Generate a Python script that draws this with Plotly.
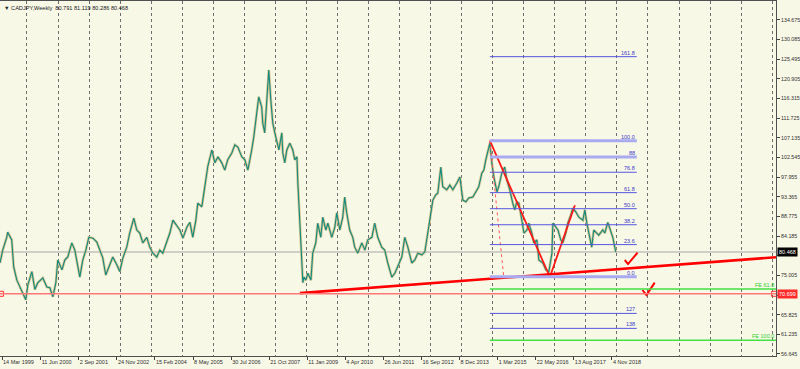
import plotly.graph_objects as go

# ---------------- data ----------------
dates = [
    "1999-02-18", "1999-03-22", "1999-05-08", "1999-05-20", "1999-07-06", "1999-07-29", "1999-09-04", "1999-10-09",
    "1999-11-14", "1999-12-18", "2000-01-12", "2000-02-28", "2000-04-03", "2000-05-08", "2000-07-06", "2000-08-22",
    "2000-09-27", "2000-11-01", "2000-12-06", "2000-12-29", "2001-02-16", "2001-03-21", "2001-04-25", "2001-06-12",
    "2001-07-17", "2001-08-21", "2001-09-14", "2001-10-19", "2001-11-24", "2001-12-29", "2002-02-15", "2002-04-02",
    "2002-05-07", "2002-06-11", "2002-07-16", "2002-08-21", "2002-10-07", "2002-11-23", "2002-12-28", "2003-02-03",
    "2003-03-20", "2003-04-24", "2003-06-11", "2003-07-16", "2003-08-20", "2003-09-25", "2003-11-11", "2003-12-16",
    "2004-01-21", "2004-03-07", "2004-04-12", "2004-05-17", "2004-07-03", "2004-08-08", "2004-09-13", "2004-10-29",
    "2004-12-04", "2005-01-09", "2005-02-25", "2005-04-01", "2005-05-05", "2005-06-10", "2005-07-03", "2005-08-19",
    "2005-09-24", "2005-10-29", "2005-12-15", "2006-01-20", "2006-02-25", "2006-04-11", "2006-05-16", "2006-06-20",
    "2006-08-07", "2006-09-12", "2006-10-17", "2006-12-03", "2007-01-08", "2007-02-12", "2007-03-29", "2007-04-22",
    "2007-05-27", "2007-06-20", "2007-07-25", "2007-08-06", "2007-08-29", "2007-09-23", "2007-10-04", "2007-10-16",
    "2007-11-09", "2007-12-02", "2007-12-26", "2008-01-19", "2008-02-12", "2008-03-17", "2008-03-29", "2008-04-21",
    "2008-05-15", "2008-06-20", "2008-07-24", "2008-08-17", "2008-09-11", "2008-09-22", "2008-10-16", "2008-11-09",
    "2008-11-20", "2008-12-02", "2008-12-25", "2009-01-18", "2009-02-23", "2009-03-16", "2009-04-21", "2009-05-14",
    "2009-06-19", "2009-07-12", "2009-08-17", "2009-09-10", "2009-10-26", "2009-12-01", "2009-12-24", "2010-01-29",
    "2010-03-04", "2010-03-27", "2010-04-20", "2010-05-25", "2010-06-30", "2010-07-23", "2010-08-28", "2010-10-14",
    "2010-11-19", "2010-12-24", "2011-02-10", "2011-03-15", "2011-04-20", "2011-06-06", "2011-07-11", "2011-08-16",
    "2011-10-02", "2011-11-07", "2011-12-12", "2012-01-28", "2012-03-03", "2012-04-08", "2012-05-24", "2012-06-29",
    "2012-08-04", "2012-09-20", "2012-10-25", "2012-11-29", "2013-01-04", "2013-01-27", "2013-03-02", "2013-03-26",
    "2013-05-01", "2013-05-24", "2013-07-10", "2013-08-15", "2013-09-19", "2013-11-06", "2013-12-11", "2014-01-15",
    "2014-02-20", "2014-03-25", "2014-05-12", "2014-06-16", "2014-07-21", "2014-08-26", "2014-09-19", "2014-10-12",
    "2014-11-05", "2014-11-29", "2014-12-22", "2015-01-15", "2015-02-20", "2015-03-13", "2015-04-18", "2015-05-23",
    "2015-06-16", "2015-07-21", "2015-08-25", "2015-09-18", "2015-10-12", "2015-11-05", "2015-12-10", "2016-01-03",
    "2016-02-08", "2016-03-01", "2016-04-06", "2016-04-29", "2016-06-04", "2016-06-27", "2016-08-13", "2016-09-18",
    "2016-10-23", "2016-11-28", "2016-12-09", "2017-01-14", "2017-02-07", "2017-03-12", "2017-04-05", "2017-05-10",
    "2017-06-03", "2017-07-08", "2017-08-01", "2017-09-06", "2017-10-11", "2017-11-27", "2017-12-20", "2018-01-13",
    "2018-02-18", "2018-03-11", "2018-04-04", "2018-05-09", "2018-06-02", "2018-07-19", "2018-08-12", "2018-09-16",
    "2018-10-21", "2018-11-14", "2018-12-19",
]
closes = [
    77.9, 80.9, 83.9, 85.1, 83.3, 77.0, 73.9, 72.3,
    70.9, 69.3, 72.8, 75.9, 71.7, 73.3, 74.4, 72.3,
    72.1, 70.0, 73.3, 78.6, 76.3, 78.6, 79.3, 82.6,
    80.9, 77.5, 74.6, 78.6, 80.9, 83.9, 83.7, 82.8,
    80.9, 79.1, 75.1, 77.0, 79.3, 77.5, 75.9, 79.1,
    81.6, 84.9, 88.4, 85.6, 84.9, 82.6, 83.9, 81.6,
    80.2, 79.3, 80.9, 80.2, 82.8, 84.9, 87.9, 86.7,
    85.6, 83.7, 86.3, 87.4, 83.9, 87.9, 91.9, 91.0,
    96.0, 100.5, 104.3, 101.3, 102.7, 101.3, 99.6, 102.0,
    103.6, 105.5, 105.0, 102.7, 102.0, 99.6, 104.3, 107.3,
    112.9, 116.7, 114.3, 110.6, 108.3, 117.6, 120.6, 123.0,
    116.0, 110.6, 108.3, 106.6, 104.3, 108.3, 103.6, 101.3,
    104.3, 105.9, 104.3, 102.0, 102.7, 96.6, 87.2, 79.3,
    73.3, 74.6, 73.9, 75.5, 73.9, 80.2, 82.6, 87.2,
    83.9, 88.6, 85.6, 87.2, 83.9, 86.3, 89.6, 85.6,
    88.6, 93.3, 89.6, 85.6, 83.9, 81.6, 80.2, 82.6,
    80.9, 83.3, 83.9, 87.2, 83.9, 81.6, 80.9, 77.9,
    74.6, 75.5, 77.0, 79.3, 83.9, 81.6, 77.9, 78.6,
    80.2, 79.8, 80.5, 85.6, 89.6, 92.6, 93.8, 94.2,
    100.3, 95.7, 95.0, 96.1, 95.0, 96.6, 98.0, 92.6,
    92.2, 93.1, 93.3, 94.5, 95.7, 98.9, 99.6, 102.0,
    104.3, 105.9, 101.3, 98.0, 94.5, 95.7, 98.9, 100.3,
    97.3, 95.0, 91.9, 90.3, 92.2, 91.9, 87.9, 84.9,
    85.6, 87.2, 84.9, 82.6, 83.3, 78.6, 77.9, 76.3,
    75.9, 80.2, 87.2, 86.3, 85.6, 83.3, 82.6, 84.9,
    87.2, 89.1, 90.7, 89.8, 88.6, 87.9, 90.3, 87.2,
    83.3, 81.6, 85.6, 84.9, 84.4, 85.6, 84.9, 87.4,
    85.6, 83.9, 80.468,
]

header_text = "▼ CADJPY,Weekly  80.791 81.119 80.286 80.468"

tick_dates = ["1999-03-14", "2000-06-11", "2001-09-02", "2002-11-24", "2004-02-15", "2005-05-08",
              "2006-07-30", "2007-10-21", "2009-01-11", "2010-04-04", "2011-06-26", "2012-09-16",
              "2013-12-08", "2015-03-01", "2016-05-22", "2017-08-13", "2018-11-04"]
tick_labels = ["14 Mar 1999", "11 Jun 2000", "2 Sep 2001", "24 Nov 2002", "15 Feb 2004", "8 May 2005",
               "30 Jul 2006", "21 Oct 2007", "11 Jan 2009", "4 Apr 2010", "26 Jun 2011", "16 Sep 2012",
               "8 Dec 2013", "1 Mar 2015", "22 May 2016", "13 Aug 2017", "4 Nov 2018"]
price_ticks = [56.645, 61.235, 65.825, 70.415, 75.005, 79.595, 84.185, 88.775, 93.365,
               97.955, 102.545, 107.135, 111.725, 116.315, 120.905, 125.495, 130.085, 134.675]
# labels hidden behind the price boxes in the reference
price_labels = ["56.645", "61.235", "65.825", "", "75.005", "", "84.185", "88.775", "93.365",
                "97.955", "102.545", "107.135", "111.725", "116.315", "120.905", "125.495", "130.085", "134.675"]

x_range = ["1999-02-18", "2024-02-16"]
y_range = [56.17, 139.11]

last_price = 80.468
hline_price = 70.699

trend_dates = ["2008-10-16", "2024-02-16"]
trend_prices = [70.85, 79.25]

zigzag_dates = ["2014-11-29", "2016-11-04", "2017-08-25"]
zigzag_prices = [106.47, 74.63, 91.4]

fib_dates = ["2014-11-29", "2019-08-23"]
fib_base_dates = ["2014-11-29", "2015-05-11"]
fib_high = 106.47
fib_low = 74.70
fib_levels = [161.8, 100.0, 88.0, 76.8, 61.8, 50.0, 38.2, 23.6, 0.0, -27.0, -38.0, -61.8]
fib_labels = ["161.8", "100.0", "88", "76.8", "61.8", "50.0", "38.2", "23.6", "0.0", "127", "138", "161.8"]
fib_thick = ["100.0", "88", "0.0"]

fe_start = "2014-11-29"
fe_prices = [71.83, 59.84]
fe_labels = ["FE 61.8", "FE 100.0"]

check1_dates = ["2019-04-04", "2019-05-12", "2019-09-01"]
check1_prices = [78.60, 77.66, 80.31]
check2_dates = ["2019-10-29", "2019-12-15", "2020-03-21"]
check2_prices = [71.59, 70.42, 73.30]

# ---------------- styles ----------------
BG = "#f8f8e7"
TEAL = "#14897f"
TAN = "#c9b97a"
FONT = "Liberation Sans"

fig = go.Figure()

# price ribbon: tan underlay + teal line
fig.add_trace(go.Scatter(x=dates, y=closes, mode="lines",
                         line=dict(color=TAN, width=2.6), opacity=0.8,
                         hoverinfo="skip", showlegend=False))
fig.add_trace(go.Scatter(x=dates, y=closes, mode="lines",
                         line=dict(color=TEAL, width=1.1),
                         showlegend=False))

shapes = []
annotations = []

# current price line (gray) and horizontal red line
shapes.append(dict(type="line", xref="paper", x0=0, x1=1, yref="y", y0=last_price, y1=last_price,
                   line=dict(color="#a6a6a6", width=1), layer="below"))
shapes.append(dict(type="line", xref="paper", x0=0, x1=1, yref="y", y0=hline_price, y1=hline_price,
                   line=dict(color="#ff7878", width=1.6)))

# fibonacci retracement levels
rng = fib_high - fib_low
for lev, lab in zip(fib_levels, fib_labels):
    p = fib_low + lev / 100.0 * rng
    if lab in fib_thick and lev >= 0:
        ln = dict(color="#aaaaf0", width=3)
    else:
        ln = dict(color="#5656e2", width=1)
    shapes.append(dict(type="line", xref="x", yref="y", x0=fib_dates[0], x1=fib_dates[1], y0=p, y1=p, line=ln))
    annotations.append(dict(x=fib_dates[1], y=p, xref="x", yref="y", text=lab, showarrow=False,
                            xanchor="right", yanchor="bottom", yshift=-1,
                            font=dict(family=FONT, size=5.5, color="#3a3ac6")))

# fibonacci expansion (green)
for p, lab in zip(fe_prices, fe_labels):
    shapes.append(dict(type="line", xref="x", yref="y", x0=fe_start, x1=x_range[1], y0=p, y1=p,
                       line=dict(color="#45e045", width=1.5)))
    annotations.append(dict(x=1, y=p, xref="paper", yref="y", text=lab, showarrow=False,
                            xanchor="right", yanchor="bottom", yshift=-1,
                            font=dict(family=FONT, size=5.5, color="#2fcf2f")))

fig.update_layout(shapes=shapes)

# fib base (dotted red)
fig.add_trace(go.Scatter(x=fib_base_dates, y=[fib_high, fib_low], mode="lines",
                         line=dict(color="#ff5a5a", width=1, dash="dot"),
                         hoverinfo="skip", showlegend=False))
# zigzag
fig.add_trace(go.Scatter(x=zigzag_dates, y=zigzag_prices, mode="lines",
                         line=dict(color="#ff1a1a", width=1.8),
                         hoverinfo="skip", showlegend=False))
# trend line
fig.add_trace(go.Scatter(x=trend_dates, y=trend_prices, mode="lines",
                         line=dict(color="#ff0000", width=2.6),
                         hoverinfo="skip", showlegend=False))
# check marks
for cd, cp in ((check1_dates, check1_prices), (check2_dates, check2_prices)):
    fig.add_trace(go.Scatter(x=cd, y=cp, mode="lines",
                             line=dict(color="#ff0000", width=2),
                             hoverinfo="skip", showlegend=False))
# anchor squares of the horizontal line
fig.add_trace(go.Scatter(x=["1999-03-01", "2024-01-25"], y=[hline_price, hline_price], mode="markers",
                         marker=dict(symbol="square-open", size=5, color="#ff3030", line=dict(width=1)),
                         hoverinfo="skip", showlegend=False, cliponaxis=False))

# header text
annotations.append(dict(x=0, y=1, xref="paper", yref="paper", text=header_text, showarrow=False,
                        xanchor="left", yanchor="top", xshift=2, yshift=-2,
                        font=dict(family=FONT, size=5.6, color="#202020")))
# price boxes on the right axis
annotations.append(dict(x=1, y=last_price, xref="paper", yref="y", text="80.468", showarrow=False,
                        xanchor="left", yanchor="middle", xshift=1, bgcolor="#000000",
                        borderpad=1, font=dict(family=FONT, size=5.5, color="#ffffff")))
annotations.append(dict(x=1, y=hline_price, xref="paper", yref="y", text="70.699", showarrow=False,
                        xanchor="left", yanchor="middle", xshift=1, bgcolor="#ff2a2a",
                        borderpad=1, font=dict(family=FONT, size=5.5, color="#ffffff")))

fig.update_layout(
    width=800, height=369,
    margin=dict(l=0, r=24, t=1, b=13, autoexpand=False),
    paper_bgcolor=BG, plot_bgcolor=BG,
    showlegend=False,
    annotations=annotations,
    xaxis=dict(
        type="date", range=x_range, automargin=False,
        tickvals=tick_dates, ticktext=tick_labels, tickangle=0,
        ticks="outside", ticklen=3, tickcolor="#404040",
        ticklabelposition="outside right",
        tickfont=dict(family=FONT, size=5.5, color="#303030"),
        showgrid=False, zeroline=False,
        showline=True, linecolor="#505050", linewidth=1, mirror=True,
        minor=dict(dtick="M12", tick0="2000-01-01", showgrid=True, griddash="dot",
                   gridcolor="#6e6e6e", gridwidth=1, ticks=""),
    ),
    yaxis=dict(
        side="right", range=y_range, automargin=False,
        tickvals=price_ticks, ticktext=price_labels,
        ticks="outside", ticklen=3, tickcolor="#404040",
        tickfont=dict(family=FONT, size=5.3, color="#303030"),
        showgrid=False, zeroline=False,
        showline=True, linecolor="#505050", linewidth=1, mirror=True,
    ),
)

fig.write_html("out.html")
